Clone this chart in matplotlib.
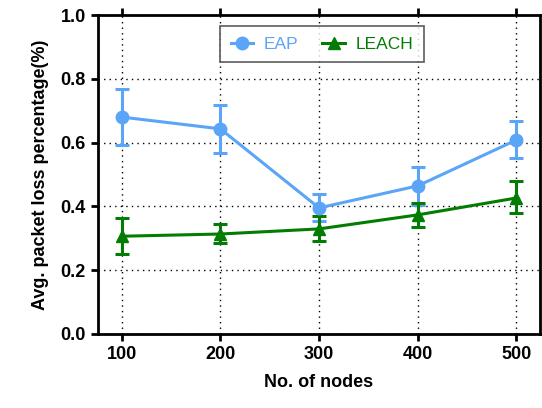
import matplotlib
matplotlib.use("Agg")
import matplotlib.pyplot as plt
from matplotlib.lines import Line2D

nodes = [100, 200, 300, 400, 500]
eap_mean = [0.680, 0.643, 0.395, 0.464, 0.608]
eap_low = [0.592, 0.567, 0.353, 0.403, 0.551]
eap_high = [0.768, 0.718, 0.438, 0.524, 0.668]
leach_mean = [0.306, 0.313, 0.329, 0.373, 0.426]
leach_low = [0.251, 0.284, 0.292, 0.336, 0.378]
leach_high = [0.362, 0.344, 0.368, 0.410, 0.480]
y_ticks = [0.0, 0.2, 0.4, 0.6, 0.8, 1.0]

plt.rcParams['font.family'] = ['Liberation Sans', 'DejaVu Sans']

fig = plt.figure(figsize=(5.42, 4.08), dpi=100)
ax = fig.add_axes([0.180, 0.182, 0.8163, 0.781])

eap_color = '#5aa5f7'
leach_color = '#037c03'

def errs(mean, low, high):
    return [[m - l for m, l in zip(mean, low)], [h - m for m, h in zip(mean, high)]]

ax.errorbar(nodes, eap_mean, yerr=errs(eap_mean, eap_low, eap_high),
            color=eap_color, marker='o', markersize=9, linewidth=2.2,
            elinewidth=2.2, capsize=5, capthick=2.2, zorder=3)
ax.errorbar(nodes, leach_mean, yerr=errs(leach_mean, leach_low, leach_high),
            color=leach_color, marker='^', markersize=9, linewidth=2.2,
            elinewidth=2.2, capsize=5, capthick=2.2, zorder=3)

ax.set_xlim(75.5, 524)
ax.set_ylim(0, 1.0)
ax.set_xticks(nodes)
ax.set_yticks(y_ticks)
ax.set_yticklabels([f'{v:.1f}' for v in y_ticks])
ax.grid(True, linestyle=(0, (1, 3)), color='black', linewidth=1.0)

for s in ax.spines.values():
    s.set_linewidth(2.0)

ax.tick_params(axis='both', direction='out', width=2, length=5,
               labelsize=13, top=True, right=False)
for lbl in ax.get_xticklabels() + ax.get_yticklabels():
    lbl.set_fontweight('bold')

ax.set_xlabel('No. of nodes', fontsize=13, fontweight='bold', labelpad=8)
ax.set_ylabel('Avg. packet loss percentage(%)', fontsize=13, fontweight='bold', labelpad=8)

handles = [
    Line2D([], [], color=eap_color, marker='o', markersize=9, linewidth=2.2),
    Line2D([], [], color=leach_color, marker='^', markersize=9, linewidth=2.2),
]
leg = ax.legend(handles, ['EAP', 'LEACH'], loc='upper center',
                bbox_to_anchor=(0.507, 0.965), borderaxespad=0, ncol=2,
                fontsize=12.5, frameon=True, fancybox=False, edgecolor='#333333',
                handlelength=1.3, handletextpad=0.6, columnspacing=1.4,
                borderpad=0.6)
leg.get_frame().set_linewidth(1.2)
for txt, c in zip(leg.get_texts(), [eap_color, leach_color]):
    txt.set_color(c)

fig.savefig('out.png', dpi=100)
